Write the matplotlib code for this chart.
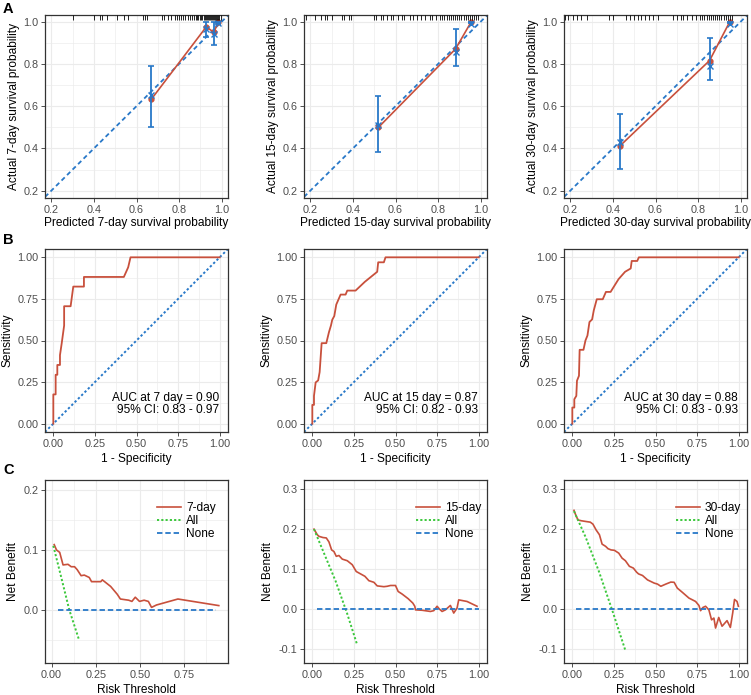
import matplotlib
matplotlib.use("Agg")
import matplotlib.pyplot as plt
import matplotlib.transforms as mtransforms
from matplotlib.ticker import MultipleLocator, FormatStrFormatter

plt.rcParams['font.family'] = ['Liberation Sans', 'DejaVu Sans']
plt.rcParams['axes.unicode_minus'] = False

RED = '#C8503C'
BLUE = '#2878C8'
GREEN = '#3CC83C'
GRID = '#EBEBEB'
TICK_GREY = '#4D4D4D'

days = ['7', '15', '30']

# ---- panel A: calibration ----
cal_pred = [[0.669, 0.928, 0.963, 0.985],
            [0.520, 0.882, 0.956],
            [0.433, 0.854, 0.949]]
cal_obs = [[0.632, 0.976, 0.950, 0.999],
           [0.500, 0.871, 1.000],
           [0.412, 0.816, 1.000]]
cal_lo = [[0.500, 0.929, 0.890, 0.990],
          [0.385, 0.790, 0.995],
          [0.302, 0.724, 0.995]]
cal_hi = [[0.790, 0.997, 0.997, 1.000],
          [0.650, 0.965, 1.000],
          [0.561, 0.924, 1.000]]
cal_corr = [[0.655, 0.965, 0.940, 0.993],
            [0.513, 0.855, 0.990],
            [0.429, 0.790, 0.990]]

rug_7 = [0.30, 0.40, 0.43, 0.44, 0.46, 0.51, 0.54, 0.56, 0.63, 0.64, 0.65,
         0.72, 0.73, 0.75, 0.76, 0.78, 0.79, 0.80, 0.81, 0.82, 0.83, 0.84,
         0.85, 0.86, 0.87, 0.88, 0.885, 0.89, 0.90, 0.905, 0.91, 0.915, 0.92,
         0.925, 0.93, 0.935, 0.94, 0.945, 0.95, 0.955, 0.96, 0.965, 0.97,
         0.975, 0.98, 0.985, 0.99, 0.995]
rug_15 = [0.18, 0.22, 0.25, 0.27, 0.28, 0.30, 0.35, 0.36, 0.38, 0.39, 0.50,
          0.51, 0.53, 0.54, 0.56, 0.58, 0.59, 0.61, 0.63, 0.64, 0.67, 0.68,
          0.70, 0.72, 0.74, 0.76, 0.77, 0.79, 0.81, 0.82, 0.83, 0.84, 0.85,
          0.86, 0.87, 0.88, 0.89, 0.90, 0.91, 0.92, 0.93, 0.94, 0.95, 0.96,
          0.97, 0.98, 0.99]
rug_30 = [0.175, 0.19, 0.21, 0.23, 0.25, 0.28, 0.38, 0.40, 0.46, 0.48, 0.50,
          0.52, 0.53, 0.55, 0.57, 0.59, 0.61, 0.68, 0.70, 0.72, 0.73, 0.75,
          0.77, 0.79, 0.81, 0.82, 0.83, 0.84, 0.85, 0.86, 0.87, 0.88, 0.89,
          0.90, 0.91, 0.92, 0.93, 0.94, 0.95, 0.96]
rugs = [rug_7, rug_15, rug_30]

# ---- panel B: ROC ----
fpr_7 = [0, 0, 0.014, 0.014, 0.024, 0.024, 0.04, 0.04, 0.05, 0.065, 0.065,
         0.104, 0.12, 0.184, 0.184, 0.424, 0.45, 0.464, 1.0]
tpr_7 = [0, 0.176, 0.176, 0.294, 0.294, 0.353, 0.353, 0.412, 0.48, 0.59, 0.706,
         0.706, 0.824, 0.824, 0.882, 0.882, 0.94, 1.0, 1.0]
fpr_15 = [0, 0, 0.01, 0.01, 0.02, 0.035, 0.044, 0.056, 0.084, 0.10, 0.112, 0.12,
          0.132, 0.144, 0.17, 0.20, 0.21, 0.26, 0.316, 0.39, 0.396, 0.43, 0.44, 1.0]
tpr_15 = [0, 0.113, 0.113, 0.167, 0.248, 0.26, 0.31, 0.484, 0.484, 0.55, 0.59, 0.625,
          0.647, 0.716, 0.776, 0.776, 0.80, 0.80, 0.853, 0.913, 0.97, 0.97, 1.0, 1.0]
fpr_30 = [0, 0, 0.012, 0.012, 0.024, 0.028, 0.04, 0.044, 0.067, 0.079, 0.091, 0.103,
          0.119, 0.129, 0.147, 0.183, 0.202, 0.23, 0.278, 0.317, 0.351, 0.357, 0.39,
          0.40, 1.0]
tpr_30 = [0, 0.097, 0.097, 0.147, 0.167, 0.258, 0.288, 0.444, 0.444, 0.50, 0.53, 0.611,
          0.627, 0.681, 0.748, 0.748, 0.792, 0.792, 0.869, 0.913, 0.933, 0.978, 0.978,
          1.0, 1.0]
roc_fpr = [fpr_7, fpr_15, fpr_30]
roc_tpr = [tpr_7, tpr_15, tpr_30]
auc = ['0.90', '0.87', '0.88']
auc_ci = ['0.83 - 0.97', '0.82 - 0.93', '0.83 - 0.93']

# ---- panel C: decision curves ----
thr_7 = [0.015, 0.028, 0.046, 0.065, 0.093, 0.111, 0.130, 0.145, 0.167, 0.185,
         0.213, 0.226, 0.278, 0.287, 0.334, 0.371, 0.389, 0.436, 0.454, 0.473,
         0.497, 0.523, 0.547, 0.565, 0.593, 0.714, 0.945]
nb_7 = [0.109, 0.100, 0.096, 0.075, 0.076, 0.072, 0.072, 0.067, 0.057, 0.058,
        0.054, 0.047, 0.047, 0.050, 0.039, 0.026, 0.018, 0.016, 0.014, 0.021,
        0.014, 0.016, 0.014, 0.004, 0.008, 0.018, 0.007]
thr_15 = [0.01, 0.03, 0.04, 0.064, 0.084, 0.10, 0.116, 0.13, 0.144, 0.16, 0.18,
          0.21, 0.24, 0.264, 0.29, 0.316, 0.34, 0.37, 0.39, 0.43, 0.45, 0.47,
          0.50, 0.516, 0.54, 0.576, 0.604, 0.616, 0.62, 0.66, 0.71, 0.73, 0.75,
          0.764, 0.78, 0.80, 0.83, 0.85, 0.87, 0.88, 0.93, 0.99]
nb_15 = [0.200, 0.186, 0.182, 0.179, 0.178, 0.168, 0.148, 0.144, 0.132, 0.134,
         0.125, 0.121, 0.111, 0.094, 0.088, 0.082, 0.071, 0.067, 0.058, 0.056,
         0.057, 0.059, 0.059, 0.044, 0.0375, 0.026, 0.015, 0.007, -0.002, -0.003,
         -0.006, -0.004, 0.007, 0.0, -0.006, -0.002, 0.009, -0.010, 0.0025, 0.023,
         0.019, 0.007]
thr_30 = [0.01, 0.02, 0.034, 0.054, 0.084, 0.108, 0.124, 0.143, 0.163, 0.179,
          0.20, 0.215, 0.233, 0.253, 0.279, 0.299, 0.319, 0.343, 0.367, 0.386,
          0.398, 0.422, 0.452, 0.472, 0.492, 0.512, 0.532, 0.562, 0.592, 0.612,
          0.631, 0.661, 0.701, 0.741, 0.761, 0.771, 0.785, 0.801, 0.821, 0.837,
          0.851, 0.861, 0.88, 0.90, 0.93, 0.95, 0.964, 0.975, 0.99, 0.998]
nb_30 = [0.247, 0.236, 0.223, 0.221, 0.219, 0.2175, 0.2125, 0.198, 0.186, 0.1625,
         0.157, 0.151, 0.148, 0.147, 0.140, 0.1275, 0.121, 0.107, 0.1025, 0.0925,
         0.088, 0.084, 0.073, 0.069, 0.065, 0.0625, 0.057, 0.0625, 0.0675, 0.067,
         0.0525, 0.042, 0.0275, 0.019, 0.009, -0.004, 0.004, 0.007, -0.002, -0.027,
         -0.0225, -0.0475, -0.021, -0.043, -0.029, -0.046, -0.010, 0.024, 0.019, 0.007]
dca_thr = [thr_7, thr_15, thr_30]
dca_nb = [nb_7, nb_15, nb_30]

all_thr = [[0.01, 0.05, 0.10, 0.155],
           [0.01, 0.07, 0.14, 0.21, 0.27],
           [0.01, 0.08, 0.16, 0.24, 0.32]]
all_nb = [[0.107, 0.060, -0.0, -0.050],
          [0.200, 0.140, 0.070, -0.012, -0.090],
          [0.245, 0.180, 0.094, -0.003, -0.105]]
none_thr = [[0.037, 0.927], [0.03, 1.0], [0.024, 0.996]]
none_nb = [[0.0, 0.0], [0.0, 0.0], [0.0, 0.0]]

dca_xlim = [(-0.037, 0.997), (-0.05, 1.05), (-0.05, 1.05)]
dca_ylim = [(-0.089, 0.217), (-0.135, 0.323), (-0.135, 0.323)]
dca_xticks = [[0, 0.25, 0.5, 0.75], [0, 0.25, 0.5, 0.75, 1.0], [0, 0.25, 0.5, 0.75, 1.0]]
dca_yticks = [[0.0, 0.1, 0.2], [-0.1, 0.0, 0.1, 0.2, 0.3], [-0.1, 0.0, 0.1, 0.2, 0.3]]

W, H = 751, 695
col_left = [45, 304, 564]
row_top = [15, 249, 480]
SIZE = 183
TICK_FS = 7.8
LAB_FS = 8.6

fig = plt.figure(figsize=(W / 100, H / 100), dpi=100)


def make_axes(col, row):
    ax = fig.add_axes([col_left[col] / W, 1 - (row_top[row] + SIZE) / H, SIZE / W, SIZE / H])
    ax.set_facecolor('white')
    ax.grid(True, which='major', color=GRID, linewidth=0.8, zorder=0)
    ax.grid(True, which='minor', color=GRID, linewidth=0.45, zorder=0)
    ax.set_axisbelow(True)
    for s in ax.spines.values():
        s.set_color('#333333')
        s.set_linewidth(0.9)
    ax.tick_params(which='major', length=2.8, width=0.6, color='#333333',
                   labelsize=TICK_FS, labelcolor=TICK_GREY, pad=2)
    ax.tick_params(which='minor', length=0)
    return ax


for i in range(3):
    # A: calibration
    ax = make_axes(i, 0)
    ax.set_xlim(0.17, 1.03)
    ax.set_ylim(0.165, 1.032)
    ax.xaxis.set_major_locator(MultipleLocator(0.2))
    ax.yaxis.set_major_locator(MultipleLocator(0.2))
    ax.xaxis.set_minor_locator(MultipleLocator(0.1))
    ax.yaxis.set_minor_locator(MultipleLocator(0.1))
    ax.xaxis.set_major_formatter(FormatStrFormatter('%.1f'))
    ax.yaxis.set_major_formatter(FormatStrFormatter('%.1f'))
    ax.axline((0, 0), (1, 1), color=BLUE, linestyle=(0, (2.5, 1.8)), linewidth=1.3, zorder=2)
    ax.plot(cal_pred[i], cal_obs[i], color=RED, linewidth=1.2, marker='o',
            markersize=3.5, zorder=3)
    yerr = [[o - l for o, l in zip(cal_obs[i], cal_lo[i])],
            [h - o for o, h in zip(cal_obs[i], cal_hi[i])]]
    ax.errorbar(cal_pred[i], cal_obs[i], yerr=yerr, fmt='none', ecolor=BLUE,
                elinewidth=1.3, capsize=2.5, capthick=1.2, zorder=4)
    ax.plot(cal_pred[i], cal_corr[i], linestyle='none', marker='x', color=BLUE,
            markersize=4, markeredgewidth=1.0, zorder=5)
    trans = mtransforms.blended_transform_factory(ax.transData, ax.transAxes)
    ax.vlines(rugs[i], 0.975, 1.0, transform=trans, color='black', linewidth=0.6, zorder=6)
    ax.set_xlabel('Predicted %s-day survival probability' % days[i], fontsize=LAB_FS, labelpad=2)
    ax.set_ylabel('Actual %s-day survival probability' % days[i], fontsize=LAB_FS, labelpad=2)

    # B: ROC
    ax = make_axes(i, 1)
    ax.set_xlim(-0.05, 1.05)
    ax.set_ylim(-0.05, 1.05)
    ax.xaxis.set_major_locator(MultipleLocator(0.25))
    ax.yaxis.set_major_locator(MultipleLocator(0.25))
    ax.xaxis.set_minor_locator(MultipleLocator(0.125))
    ax.yaxis.set_minor_locator(MultipleLocator(0.125))
    ax.xaxis.set_major_formatter(FormatStrFormatter('%.2f'))
    ax.yaxis.set_major_formatter(FormatStrFormatter('%.2f'))
    ax.axline((0, 0), (1, 1), color=BLUE, linestyle=(0, (1.2, 1.2)), linewidth=1.4, zorder=2)
    ax.plot(roc_fpr[i], roc_tpr[i], color=RED, linewidth=1.3, zorder=3)
    ax.text(0.995, 0.157, 'AUC at %s day = %s' % (days[i], auc[i]), ha='right', va='center',
            fontsize=LAB_FS)
    ax.text(0.995, 0.081, '95%% CI: %s' % auc_ci[i], ha='right', va='center', fontsize=LAB_FS)
    ax.set_xlabel('1 - Specificity', fontsize=LAB_FS, labelpad=3)
    ax.set_ylabel('Sensitivity', fontsize=LAB_FS, labelpad=3)

    # C: decision curves
    ax = make_axes(i, 2)
    ax.set_xlim(*dca_xlim[i])
    ax.set_ylim(*dca_ylim[i])
    ax.set_xticks(dca_xticks[i])
    ax.set_yticks(dca_yticks[i])
    ax.xaxis.set_minor_locator(MultipleLocator(0.125))
    ax.yaxis.set_minor_locator(MultipleLocator(0.05))
    ax.xaxis.set_major_formatter(FormatStrFormatter('%.2f'))
    ax.yaxis.set_major_formatter(FormatStrFormatter('%.1f'))
    ax.plot(dca_thr[i], dca_nb[i], color=RED, linewidth=1.2, label='%s-day' % days[i], zorder=3)
    ax.plot(all_thr[i], all_nb[i], color=GREEN, linestyle=(0, (1.1, 1.1)), linewidth=1.4,
            label='All', zorder=3)
    ax.plot(none_thr[i], none_nb[i], color=BLUE, linestyle=(0, (3, 1.6)), linewidth=1.3,
            label='None', zorder=3)
    ax.legend(loc='upper left', bbox_to_anchor=(0.61, 0.88), frameon=False,
              fontsize=LAB_FS, borderpad=0, borderaxespad=0, handlelength=2.0,
              handletextpad=0.45, labelspacing=0.1)
    ax.set_xlabel('Risk Threshold', fontsize=LAB_FS, labelpad=3)
    ax.set_ylabel('Net Benefit', fontsize=LAB_FS, labelpad=3)

for lab, y in zip(['A', 'B', 'C'], [2, 233, 463]):
    fig.text(3 / W, 1 - y / H, lab, fontsize=10.5, fontweight='bold', va='top', ha='left')

fig.savefig('out.png', dpi=100)
